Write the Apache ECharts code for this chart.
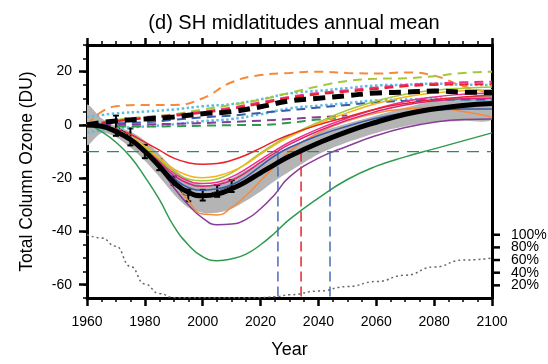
<!DOCTYPE html>
<html>
<head>
<meta charset="utf-8">
<script src="https://cdn.jsdelivr.net/npm/echarts@6/dist/echarts.min.js"></script>
<style>
  html, body { margin: 0; padding: 0; background: #fff; }
  #chart { width: 548px; height: 364px; }
</style>
</head>
<body>
<div id="chart"></div>
<script>
// years of the model curves (5-yearly through the dip, then 10-yearly)
const years = [1960, 1965, 1970, 1975, 1980, 1985, 1990, 1995, 2000, 2005, 2010, 2015, 2020, 2025, 2030, 2040, 2050, 2060, 2070, 2080, 2090, 2100]

// multi-model mean and its grey spread
const mmm = [0, -0.5, -2.5, -5.5, -10, -15.5, -21.5, -25.3, -26.6, -26, -24, -21.3, -18, -14.8, -11.8, -6.8, -2.5, 1, 4, 6, 7.3, 8]
const bandHigh = [7.5, 2.5, -0.5, -2.5, -6, -11, -16.5, -20.5, -22.6, -22, -20, -17, -14, -10.8, -8.5, -3, 0.5, 3.5, 6.5, 9, 10.3, 11]
const bandLow = [-7.5, -3, -4.5, -8.5, -13.5, -19.5, -26, -31, -33, -33, -31.5, -28.5, -25, -21, -17.5, -11, -6.5, -3, -0.5, 1, 1.5, 2]

// fixed ODS (dashed) mean, 10-yearly, and its cyan spread
const years10 = [1960, 1970, 1980, 1990, 2000, 2010, 2020, 2030, 2040, 2050, 2060, 2070, 2080, 2090, 2100]
const fixedMean = [0, 1.5, 2.2, 3, 4.2, 5, 6.8, 9, 10, 11, 12, 12.3, 12.7, 12.3, 12.2]
const fixedHigh = [3, 4.3, 5, 5.8, 7, 7.8, 9.6, 11.8, 12.8, 13.8, 14.8, 15.1, 15.5, 15.1, 15]
const fixedLow = [-3, -1.3, -0.6, 0.2, 1.4, 2.2, 4, 6.2, 7.2, 8.2, 9.2, 9.5, 9.9, 9.5, 9.4]

// individual models, solid
const red = [0, -0.5, -1.5, -3.5, -6.5, -9.5, -12.5, -14.2, -14.8, -14.5, -13.3, -11.3, -8.7, -6, -3.7, 0, 3, 6, 8, 9.5, 10.5, 11]
const gold = [0, -0.6, -2, -4.5, -8, -12.5, -16.5, -19, -19.8, -19.2, -17.5, -14.7, -11, -7.5, -4.5, 0.5, 4.5, 8, 10.5, 12, 12.8, 13.2]
const yellowGreen = [0, -0.6, -2.2, -4.8, -8.5, -13, -17.5, -20.3, -21, -20.3, -18, -14.5, -10.5, -7, -4, 1, 5.5, 9, 11.5, 13, 13.8, 14.2]
const pink = [0, -0.6, -2.2, -5, -9, -13.5, -18, -21, -22, -21.5, -19.5, -16.5, -13, -9.7, -6.5, -1.5, 2.5, 6, 8.8, 10.5, 11.5, 12]
const magenta = [0, -0.6, -2.4, -5.3, -9.5, -14, -19, -22, -23, -22.5, -20.8, -17.8, -14, -10.5, -7.3, -2.3, 1.8, 5, 7.5, 9, 9.8, 10]
const blue = [0, -0.7, -2.5, -5.5, -10, -15, -20, -23.5, -24.5, -24, -22.5, -19.5, -15.5, -11.5, -8.5, -4, -0.5, 2.5, 4.5, 5.5, 6, 6]
const orange = [0, -0.5, -2, -5, -9.5, -15, -21, -28.5, -33.5, -33.8, -31, -26.5, -21, -15.5, -10, -3, 1.5, 4.5, 6, 6.5, 5, 3]
const purple = [0, -0.8, -2.5, -5.5, -10, -16, -23.5, -30, -35, -37.5, -37.2, -35.5, -31.5, -26, -19.5, -12.5, -8, -4, -1, 1, 2, 2.2]
const green = [0.5, -2.5, -6.5, -12, -19.5, -28, -38, -45, -49.5, -51, -50.3, -48.5, -45, -40.5, -35.5, -27.5, -20.5, -15.5, -12, -9, -6, -3]

// individual models, dashed (10-yearly)
const orangeDash = [0, 7, 7.5, 7.5, 10, 16, 18.7, 19.5, 20, 19.5, 19.3, 19.7, 18.5, 14.5, 12]
const ygDash = [0, 1.8, 3, 4, 5.8, 7.5, 9.5, 12, 14.5, 16.5, 17.3, 17.5, 18.3, 19.5, 20]
const pinkDash = [0, 1.5, 2.8, 3.8, 5, 6.5, 8.5, 10.5, 12, 13, 14, 15, 15.5, 16, 16.2]
const redDash = [0, 1.3, 2.5, 3.4, 4.6, 6, 8, 10, 11.5, 12.5, 13.5, 14.5, 15, 15.2, 15.3]
const blueDash = [0, 0.6, 1, 1.9, 2.8, 3.5, 4.5, 5.5, 6.5, 7.5, 8.5, 9, 9.4, 9.5, 9.5]
const shortYears = [1960, 1970, 1980, 1990, 2000, 2010, 2020, 2030, 2040, 2050]
const purpleDash = [0, 0, 0.2, 0.4, 0.7, 1.1, 1.6, 2.2, 2.9, 3.5]
const greenDash = [-0.5, -0.6, -0.6, -0.5, -0.3, -0.1, 0, 0.8, 2, 2.5]

// observations with error bars
const obsYears = [1970, 1975, 1980, 1985, 1990, 1995, 2000, 2005, 2010]
const obsVal = [-0.3, -4.5, -10, -15, -21, -26.5, -26.4, -24.8, -23]
const obsErr = [3.8, 3.2, 2.5, 2, 1.6, 2.2, 2, 2.2, 2.2]

// return-date lines
const refLevel = -10
const returnLow = 2026
const returnMean = 2034
const returnHigh = 2044

// probability of return (right axis, %)
const probYears = [1960, 1965, 1970, 1975, 1980, 1985, 1990, 2020, 2025, 2030, 2040, 2050, 2060, 2070, 2080, 2090, 2100]
const prob = [100, 95, 82, 50, 22, 7, 0.5, 0.5, 2, 5, 11, 18, 26, 36, 49, 60, 63]

const duTicks = [-60, -40, -20, 0, 20]
const pctTicks = [20, 40, 60, 80, 100]

const pts = (xs, ys) => xs.map((x, i) => [x, ys[i]])

const solid = (data, color, width) => ({
  type: 'line', data: data, smooth: true, symbol: 'none',
  lineStyle: { color: color, width: width || 1.5 }
})
const dashed = (data, color, width) => ({
  type: 'line', data: data, smooth: true, symbol: 'none',
  lineStyle: { color: color, width: width || 2, type: [9, 6] }
})

const chart = echarts.init(document.getElementById('chart'))
const axisColor = '#000'
const fontFamily = 'Liberation Sans, Arial, sans-serif'

chart.setOption({
  animation: false,
  textStyle: { fontFamily: fontFamily, color: '#000' },
  title: {
    text: '(d) SH midlatitudes annual mean',
    left: 289, top: 8, textAlign: 'center',
    textStyle: { fontSize: 20, fontWeight: 'normal', color: '#000' }
  },
  grid: { left: 87, right: 56, top: 45, bottom: 64 },
  xAxis: [
    {
      type: 'value', min: 1960, max: 2100, interval: 20, position: 'bottom',
      name: 'Year', nameLocation: 'middle', nameGap: 43,
      nameTextStyle: { fontSize: 18, color: '#000' },
      axisLine: { onZero: false, lineStyle: { color: axisColor, width: 3 } },
      axisTick: { length: 8, lineStyle: { color: axisColor, width: 2.5 } },
      minorTick: { show: true, splitNumber: 4, length: 4, lineStyle: { color: axisColor, width: 1.5 } },
      axisLabel: { fontSize: 14, margin: 17, color: '#000', formatter: v => String(v) },
      splitLine: { show: false }
    },
    {
      type: 'value', min: 1960, max: 2100, interval: 20, position: 'top',
      axisLine: { onZero: false, lineStyle: { color: axisColor, width: 3 } },
      axisTick: { length: 7, lineStyle: { color: axisColor, width: 2.5 } },
      minorTick: { show: true, splitNumber: 4, length: 4, lineStyle: { color: axisColor, width: 1.5 } },
      axisLabel: { show: false },
      splitLine: { show: false }
    }
  ],
  yAxis: [
    {
      type: 'value', min: -65, max: 30, position: 'left',
      name: 'Total Column Ozone (DU)', nameLocation: 'middle', nameGap: 51,
      nameTextStyle: { fontSize: 17.5, color: '#000' },
      axisLine: { show: true, onZero: false, lineStyle: { color: axisColor, width: 3 } },
      axisTick: { show: true, customValues: duTicks, length: 8, lineStyle: { color: axisColor, width: 2.5 } },
      axisLabel: { customValues: duTicks, fontSize: 14, margin: 15, color: '#000' },
      splitLine: { show: false }
    },
    {
      type: 'value', min: -65, max: 30, interval: 5, position: 'left',
      axisLine: { show: false },
      axisTick: { show: true, length: 4, lineStyle: { color: axisColor, width: 1.5 } },
      axisLabel: { show: false },
      splitLine: { show: false }
    },
    {
      // percentage scale; its ticks and labels are drawn by the custom series below
      type: 'value', min: 0, max: 400, position: 'right',
      axisLine: { show: true, onZero: false, lineStyle: { color: axisColor, width: 3 } },
      axisTick: { show: false },
      axisLabel: { show: false },
      splitLine: { show: false }
    }
  ],
  series: [
    // grey spread of the multi-model mean, drawn as one smoothed polygon
    {
      type: 'custom', data: [0], clip: true, z: 1,
      renderItem: (params, api) => {
        const upper = years.map((y, i) => api.coord([y, bandHigh[i]]))
        const lower = years.map((y, i) => api.coord([y, bandLow[i]])).reverse()
        return {
          type: 'polygon',
          shape: { points: upper.concat(lower), smooth: 0.3 },
          style: { fill: '#b4b4b4', stroke: null }
        }
      }
    },
    // cyan dotted spread of the dashed mean
    {
      type: 'line', data: pts(years10, fixedHigh), smooth: true, symbol: 'none',
      lineStyle: { color: '#5bbde4', width: 2.5, type: 'dotted' }
    },
    {
      type: 'line', data: pts(years10, fixedLow), smooth: true, symbol: 'none',
      lineStyle: { color: '#5bbde4', width: 2.5, type: 'dotted' }
    },
    // dashed models
    dashed(pts(years10, orangeDash), '#f58a3c'),
    dashed(pts(years10, ygDash), '#a3c93a'),
    dashed(pts(years10, pinkDash), '#ee2f8b'),
    dashed(pts(years10, redDash), '#e8232a'),
    dashed(pts(years10, blueDash), '#3b5ba8'),
    dashed(pts(shortYears, purpleDash), '#8a3d98'),
    dashed(pts(shortYears, greenDash), '#2e9a4e'),
    // solid models
    solid(pts(years, green), '#2e9a4e'),
    solid(pts(years, purple), '#8a3d98'),
    solid(pts(years, orange), '#f58a3c'),
    solid(pts(years, blue), '#3b5ba8'),
    solid(pts(years, magenta), '#d6257a'),
    solid(pts(years, pink), '#ee2f8b'),
    solid(pts(years, yellowGreen), '#a3c93a'),
    solid(pts(years, gold), '#f2b51b'),
    solid(pts(years, red), '#e8232a'),
    // reference level and return dates
    {
      type: 'line', data: [[1960, refLevel], [2100, refLevel]], symbol: 'none',
      lineStyle: { color: '#2e8b57', width: 1.3, type: [12, 8] }
    },
    {
      type: 'line', data: [[returnLow, refLevel], [returnLow, -65]], symbol: 'none',
      lineStyle: { color: '#4a6bb5', width: 1.5, type: [10, 5] }
    },
    {
      type: 'line', data: [[returnMean, refLevel], [returnMean, -65]], symbol: 'none',
      lineStyle: { color: '#e5262b', width: 1.5, type: [10, 5] }
    },
    {
      type: 'line', data: [[returnHigh, refLevel], [returnHigh, -65]], symbol: 'none',
      lineStyle: { color: '#4a6bb5', width: 1.5, type: [10, 5] }
    },
    // black means
    {
      type: 'line', data: pts(years10, fixedMean), smooth: true, symbol: 'none',
      lineStyle: { color: '#000', width: 5, type: [12, 7] }
    },
    solid(pts(years, mmm), '#000', 5),
    // observations
    {
      type: 'line', data: pts(obsYears, obsVal), smooth: true, symbol: 'none',
      lineStyle: { color: '#000', width: 1, type: 'dotted' }
    },
    {
      type: 'custom',
      data: obsYears.map((y, i) => [y, obsVal[i] - obsErr[i], obsVal[i] + obsErr[i]]),
      renderItem: (params, api) => {
        const x = api.value(0)
        const top = api.coord([x, api.value(2)])
        const bot = api.coord([x, api.value(1)])
        const w = 3
        const st = { stroke: '#000', lineWidth: 2 }
        return {
          type: 'group',
          children: [
            { type: 'line', shape: { x1: top[0], y1: top[1], x2: bot[0], y2: bot[1] }, style: st },
            { type: 'line', shape: { x1: top[0] - w, y1: top[1], x2: top[0] + w, y2: top[1] }, style: st },
            { type: 'line', shape: { x1: bot[0] - w, y1: bot[1], x2: bot[0] + w, y2: bot[1] }, style: st }
          ]
        }
      }
    },
    // probability of return
    {
      type: 'line', yAxisIndex: 2, data: pts(probYears, prob), smooth: true, smoothMonotone: 'x',
      symbol: 'none', lineStyle: { color: '#666', width: 1.5, type: [2, 3] }
    },
    // ticks and labels of the percentage scale
    {
      type: 'custom', yAxisIndex: 2, clip: false, silent: true,
      data: pctTicks.map(v => [2100, v]),
      renderItem: (params, api) => {
        const p = api.coord([api.value(0), api.value(1)])
        return {
          type: 'group',
          children: [
            { type: 'line', shape: { x1: p[0], y1: p[1], x2: p[0] + 8, y2: p[1] }, style: { stroke: '#000', lineWidth: 2.5 } },
            {
              type: 'text',
              style: {
                text: api.value(1) + '%', x: p[0] + 19, y: p[1],
                fill: '#000', fontSize: 14, fontFamily: fontFamily,
                align: 'left', verticalAlign: 'middle'
              }
            }
          ]
        }
      }
    }
  ]
})
</script>
</body>
</html>
